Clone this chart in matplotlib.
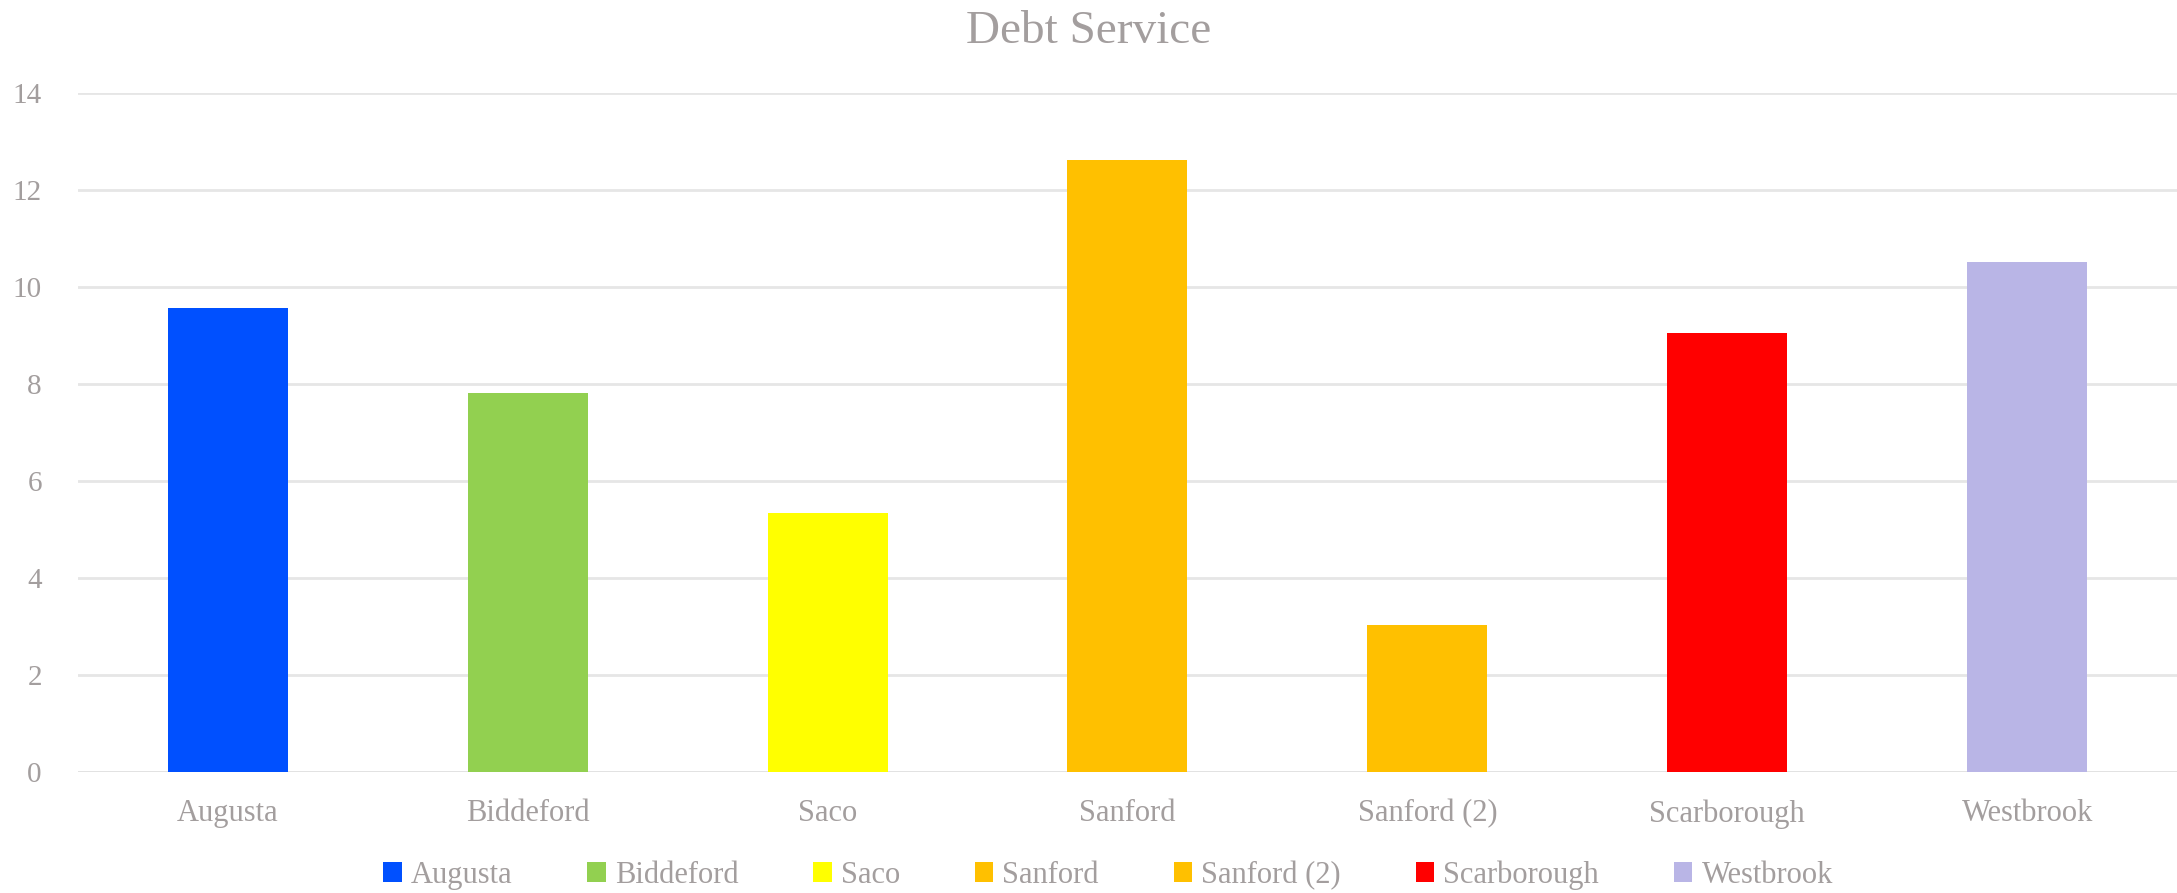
import matplotlib.pyplot as plt
import numpy as np

# dati: servizio del debito per comune
comuni  = ['Augusta', 'Biddeford', 'Saco', 'Sanford', 'Sanford (2)', 'Scarborough', 'Westbrook']
valori  = [9.56, 7.81, 5.33, 12.62, 3.02, 9.05, 10.51]
colori  = ['#0050FF', '#92D050', '#FFFF00', '#FFC000', '#FFC000', '#FF0000', '#B9B5E6']
yticks  = [0, 2, 4, 6, 8, 10, 12, 14]

grigio  = '#A39E9E'
plt.rcParams['font.family'] = ['Liberation Serif', 'DejaVu Serif']

fig = plt.figure(figsize=(21.77, 8.93), dpi=100)
ax  = fig.add_axes([0.0358, 0.136, 0.9642, 0.7595])

x = np.arange(len(comuni))
for i in range(len(comuni)):
    ax.bar(x[i], valori[i], width=0.4, color=colori[i], label=comuni[i], zorder=3)

ax.set_xlim(-0.5, len(comuni) - 0.5)
ax.set_ylim(0, 14)
ax.set_yticks(yticks)
ax.set_xticks(x)
ax.set_xticklabels(comuni)

# griglia orizzontale chiara, niente bordi
ax.grid(axis='y', color='#E6E6E6', linewidth=2, zorder=0)
for s in ['top', 'right', 'left', 'bottom']:
    ax.spines[s].set_visible(False)
ax.axhline(0, color='#E2E2E2', linewidth=2, zorder=2)
ax.tick_params(axis='x', length=0, colors=grigio, labelsize=22, pad=20)
ax.tick_params(axis='y', length=0, colors=grigio, labelsize=21, pad=26)

fig.text(0.5, 0.965, 'Debt Service', ha='center', va='center', fontsize=34, color=grigio)

leg = fig.legend(loc='center', bbox_to_anchor=(0.509, 0.02), ncol=7, frameon=False,
                 fontsize=22, handlelength=0.6, handleheight=0.6,
                 handletextpad=0.3, columnspacing=2.45)
for t in leg.get_texts():
    t.set_color(grigio)

fig.savefig('out.png', dpi=100)
